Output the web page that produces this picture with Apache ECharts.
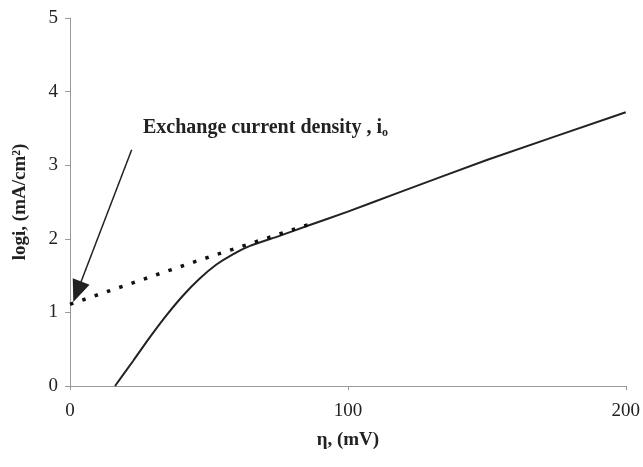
<!DOCTYPE html>
<html><head><meta charset="utf-8">
<script src="https://cdn.jsdelivr.net/npm/echarts@6/dist/echarts.min.js"></script>
<style>html,body{margin:0;padding:0;background:#fff}#c{width:643px;height:467px}</style>
</head><body><div id="c"></div>
<script>
// measured curve (overpotential mV, log i)
const measuredEta = [16.2, 22.7, 28.7, 34.7, 40.7, 46.7, 52.7, 58.6, 64.6, 75.4, 85, 100, 118.5, 150, 200];
const measuredLogI = [0.0, 0.34, 0.66, 0.96, 1.23, 1.46, 1.65, 1.79, 1.90, 2.04, 2.17, 2.37, 2.63, 3.07, 3.72];
// Tafel extrapolation (dotted)
const tafelEta = [0, 45, 88];
const tafelLogI = [1.11, 1.69, 2.22];
// annotation arrow (data coords): from -> to
const arrowFrom = [22.2, 3.21];
const arrowTo = [2.6, 1.28];
const xTicks = [0, 100, 200];
const yTicks = [0, 1, 2, 3, 4, 5];

const serif = '"Liberation Serif", "DejaVu Serif", serif';
const chart = echarts.init(document.getElementById('c'));
chart.setOption({
  animation: false,
  grid: {left: 70, right: 16, top: 18, bottom: 81},
  xAxis: {
    type: 'value', min: xTicks[0], max: xTicks[xTicks.length-1], interval: 100,
    name: 'η, (mV)', nameLocation: 'middle', nameGap: 45,
    nameTextStyle: {fontFamily: serif, fontWeight: 'bold', fontSize: 19, color: '#222'},
    axisLine: {lineStyle: {color: '#999', width: 1}},
    axisTick: {show: true, length: 4, lineStyle: {color: '#999'}},
    axisLabel: {fontFamily: serif, fontSize: 19, color: '#222', margin: 16},
    splitLine: {show: false}
  },
  yAxis: {
    type: 'value', min: yTicks[0], max: yTicks[yTicks.length-1], interval: 1,
    name: 'logi, (mA/cm²)', nameLocation: 'middle', nameGap: 40,
    nameTextStyle: {fontFamily: serif, fontWeight: 'bold', fontSize: 19, color: '#222'},
    axisLine: {show: true, lineStyle: {color: '#999', width: 1}},
    axisTick: {show: true, length: 5, lineStyle: {color: '#999'}},
    axisLabel: {fontFamily: serif, fontSize: 19, color: '#222', margin: 12},
    splitLine: {show: false}
  },
  series: [
    {
      type: 'line', showSymbol: false, smooth: 0.2,
      data: measuredEta.map((x, i) => [x, measuredLogI[i]]),
      lineStyle: {color: '#222', width: 2}
    },
    {
      type: 'line', showSymbol: false,
      data: tafelEta.map((x, i) => [x, tafelLogI[i]]),
      lineStyle: {color: '#111', width: 3.5, type: [3.5, 9.5]},
      markLine: {
        silent: true,
        symbol: ['none', 'triangle'],
        symbolSize: [18, 22],
        label: {show: false},
        lineStyle: {color: '#222', width: 1.5, type: 'solid'},
        data: [[{coord: arrowFrom}, {coord: arrowTo}]]
      }
    }
  ],
  graphic: [{
    type: 'text', left: 143, top: 118,
    style: {
      text: '{a|Exchange current density , i}{s|o}',
      rich: {
        a: {fontFamily: serif, fontWeight: 'bold', fontSize: 20, fill: '#222'},
        s: {fontFamily: serif, fontWeight: 'bold', fontSize: 12, fill: '#222', padding: [10, 0, 0, 0]}
      }
    }
  }]
});
</script></body></html>
